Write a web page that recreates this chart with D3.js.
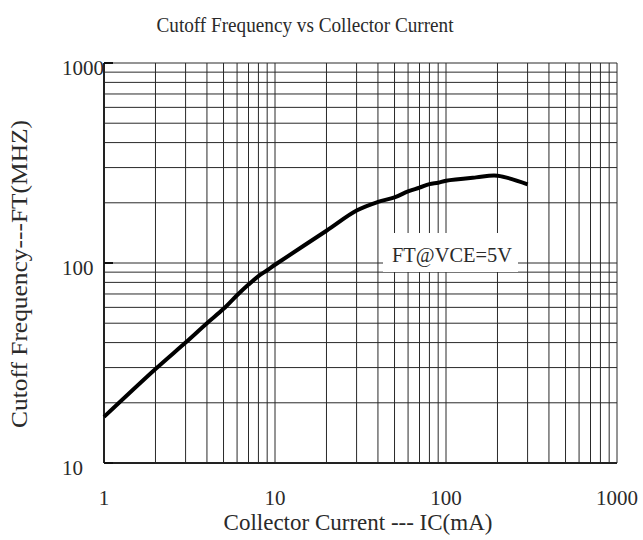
<!DOCTYPE html>
<html>
  <head>
    <meta charset="utf-8" />
    <title>Cutoff Frequency vs Collector Current</title>
    <script src="https://d3js.org/d3.v7.min.js"></script>
    <style>
      body {
        margin: 0;
        background: #fff;
      }
      text {
        font-family: 'Liberation Serif', 'DejaVu Serif', serif;
        fill: #2a2a2a;
      }
      .grid line {
        stroke: #2a2a2a;
        stroke-width: 1;
      }
      .curve {
        fill: none;
        stroke: #000;
        stroke-width: 4;
        stroke-linejoin: round;
      }
    </style>
  </head>
  <body>
    <div id="chart"></div>
    <script>
      // data
      const current = [1, 2, 3, 4, 5, 6, 7, 8, 9, 10, 20, 30, 40, 50, 60, 70, 80, 90, 100, 150, 200, 300];
      const ftValues = [17, 29.5, 40, 50, 59, 69, 78, 86, 92, 98, 145, 183, 202, 213, 228, 238, 248, 252, 258, 268, 273, 247];
      const xTicks = [1, 10, 100, 1000];
      const yTicks = [10, 100, 1000];
      const seriesLabel = 'FT@VCE=5V';

      const width = 643;
      const height = 540;
      const margin = { top: 63, right: 26, bottom: 77, left: 104 };

      const svg = d3
        .select('#chart')
        .append('svg')
        .attr('width', width)
        .attr('height', height);

      const x = d3.scaleLog().domain([1, 1000]).range([margin.left, width - margin.right]);
      const y = d3.scaleLog().domain([10, 1000]).range([height - margin.bottom, margin.top]);

      // grid lines 1..9 per decade
      const xGrid = [];
      for (let d = 1; d < 1000; d *= 10) for (let k = 1; k < 10; k++) xGrid.push(d * k);
      xGrid.push(1000);
      const yGrid = [];
      for (let d = 10; d < 1000; d *= 10) for (let k = 1; k < 10; k++) yGrid.push(d * k);
      yGrid.push(1000);

      const grid = svg.append('g').attr('class', 'grid');
      grid
        .selectAll('line.v')
        .data(xGrid)
        .join('line')
        .attr('class', 'v')
        .attr('x1', (d) => x(d))
        .attr('x2', (d) => x(d))
        .attr('y1', y(1000))
        .attr('y2', y(10));
      grid
        .selectAll('line.h')
        .data(yGrid)
        .join('line')
        .attr('class', 'h')
        .attr('x1', x(1))
        .attr('x2', x(1000))
        .attr('y1', (d) => y(d))
        .attr('y2', (d) => y(d));

      // heavier left and bottom axis lines
      svg
        .append('line')
        .attr('x1', x(1))
        .attr('x2', x(1))
        .attr('y1', y(1000))
        .attr('y2', y(10))
        .attr('stroke', '#222')
        .attr('stroke-width', 2);
      svg
        .append('line')
        .attr('x1', x(1))
        .attr('x2', x(1000))
        .attr('y1', y(10))
        .attr('y2', y(10))
        .attr('stroke', '#222')
        .attr('stroke-width', 2);

      // short major ticks on the y axis
      svg
        .append('g')
        .selectAll('line')
        .data(yTicks)
        .join('line')
        .attr('x1', x(1))
        .attr('x2', x(1) + 9)
        .attr('y1', (d) => y(d))
        .attr('y2', (d) => y(d))
        .attr('stroke', '#111')
        .attr('stroke-width', 2);

      // label box for the series
      const labelBox = svg.append('g');
      labelBox
        .append('rect')
        .attr('x', 383)
        .attr('y', 233)
        .attr('width', 135)
        .attr('height', 39)
        .attr('fill', '#fff');
      labelBox
        .append('text')
        .attr('x', 392)
        .attr('y', 262)
        .attr('font-size', 21)
        .attr('textLength', 120)
        .attr('lengthAdjust', 'spacingAndGlyphs')
        .text(seriesLabel);

      // the curve
      const line = d3
        .line()
        .x((d) => x(d[0]))
        .y((d) => y(d[1]))
        .curve(d3.curveCatmullRom.alpha(0.5));
      svg
        .append('path')
        .attr('class', 'curve')
        .attr('d', line(d3.zip(current, ftValues)));

      // tick labels
      svg
        .append('g')
        .selectAll('text')
        .data(xTicks)
        .join('text')
        .attr('x', (d) => x(d))
        .attr('y', 505)
        .attr('text-anchor', 'middle')
        .attr('font-size', 21)
        .text((d) => d);
      svg
        .append('g')
        .selectAll('text')
        .data(yTicks)
        .join('text')
        .attr('x', 62)
        .attr('y', (d) => y(d) + 12)
        .attr('font-size', 21)
        .text((d) => d);

      // titles
      svg
        .append('text')
        .attr('x', 305)
        .attr('y', 32)
        .attr('text-anchor', 'middle')
        .attr('font-size', 21)
        .attr('textLength', 297)
        .attr('lengthAdjust', 'spacingAndGlyphs')
        .text('Cutoff Frequency vs Collector Current');
      svg
        .append('text')
        .attr('x', 358)
        .attr('y', 530)
        .attr('text-anchor', 'middle')
        .attr('font-size', 23)
        .text('Collector Current --- IC(mA)');
      svg
        .append('text')
        .attr('transform', 'translate(27,274) rotate(-90)')
        .attr('text-anchor', 'middle')
        .attr('font-size', 24)
        .attr('textLength', 308)
        .attr('lengthAdjust', 'spacingAndGlyphs')
        .text('Cutoff Frequency---FT(MHZ)');
    </script>
  </body>
</html>
